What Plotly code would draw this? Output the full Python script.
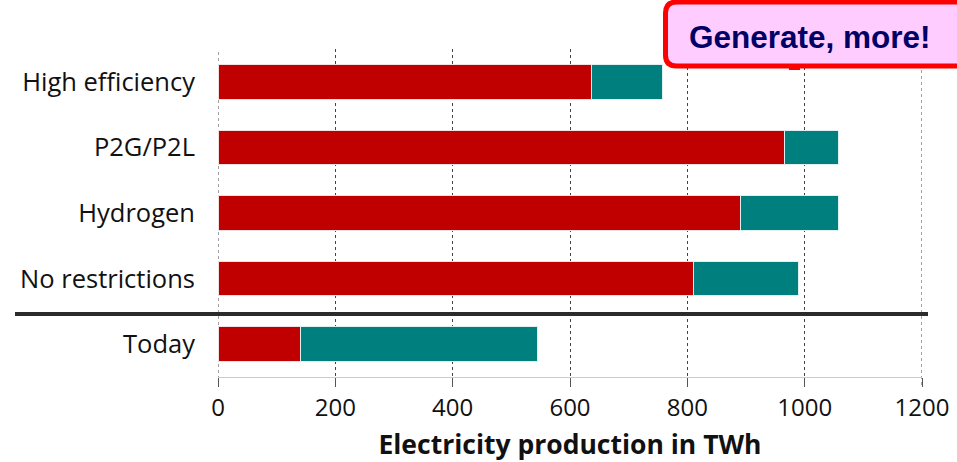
import plotly.graph_objects as go

# Scenario data (TWh)
scenarios = ["High efficiency", "P2G/P2L", "Hydrogen", "No restrictions", "Today"]
red_part = [636, 965, 890, 810, 141]
teal_part = [121, 93, 168, 179, 403]
x_ticks = [0, 200, 400, 600, 800, 1000, 1200]

fig = go.Figure()
fig.add_trace(go.Bar(
    y=scenarios, x=red_part, orientation="h",
    marker=dict(color="#C00000", line=dict(color="#f2e0e0", width=1)),
    width=0.53, hoverinfo="x+y",
))
fig.add_trace(go.Bar(
    y=scenarios, x=teal_part, orientation="h",
    marker=dict(color="#007F7F", line=dict(color="#e0f0f0", width=1)),
    width=0.53, hoverinfo="x+y",
))

W, H = 957, 462
L, R, T, B = 218, 35, 49, 85
pw, ph = W - L - R, H - T - B


def px_x(px):
    return (px - L) / pw


def px_y(py):
    return (H - B - py) / ph


shapes = []
# dashed guides at the range ends (plotly omits edge gridlines)
for xv in (x_ticks[0], x_ticks[-1]):
    shapes.append(dict(type="line", xref="x", yref="paper",
                       x0=xv, x1=xv, y0=px_y(385), y1=1.0,
                       line=dict(color="#444444", width=1, dash="3px,3px"),
                       layer="below"))

# separator between scenarios and today
shapes.append(dict(type="line", xref="paper", yref="paper",
                   x0=px_x(15), x1=px_x(928), y0=px_y(314), y1=px_y(314),
                   line=dict(color="#2b2b2b", width=4), layer="above"))

# rounded callout box
bx0, bx1, by0, by1 = 665.5, 990, 66, 2
rx, ry = 11 / pw, 11 / ph
X0, X1, Y0, Y1 = px_x(bx0), px_x(bx1), px_y(by0), px_y(by1)
path = (f"M {X0+rx},{Y0} L {X1-rx},{Y0} Q {X1},{Y0} {X1},{Y0+ry} "
        f"L {X1},{Y1-ry} Q {X1},{Y1} {X1-rx},{Y1} L {X0+rx},{Y1} "
        f"Q {X0},{Y1} {X0},{Y1-ry} L {X0},{Y0+ry} Q {X0},{Y0} {X0+rx},{Y0} Z")
shapes.append(dict(type="path", xref="paper", yref="paper", path=path,
                   fillcolor="#FFCCFF", line=dict(color="#FF0000", width=5),
                   layer="above"))
shapes.append(dict(type="rect", xref="paper", yref="paper",
                   x0=px_x(789), x1=px_x(800), y0=px_y(70), y1=px_y(66),
                   fillcolor="#FF0000", line=dict(width=0), layer="above"))

fig.update_layout(
    barmode="stack",
    width=W, height=H,
    margin=dict(l=L, r=R, t=T, b=B, autoexpand=False),
    paper_bgcolor="white", plot_bgcolor="white",
    showlegend=False,
    font=dict(family="Open Sans", color="#111111"),
    shapes=shapes,
    annotations=[dict(
        text="<b>Generate, more!</b>", xref="paper", yref="paper",
        x=px_x(810), y=px_y(37), xanchor="center", yanchor="middle",
        showarrow=False,
        font=dict(family="Liberation Sans", size=31.5, color="#000066"),
    )],
    xaxis=dict(
        range=[0, 1200], tickvals=x_ticks, ticktext=[str(v) for v in x_ticks],
        automargin=False,
        showgrid=True, gridcolor="#444444", gridwidth=1, griddash="3px,3px",
        zeroline=False, showline=True, linecolor="#cccccc", linewidth=1,
        ticks="outside", ticklen=9, tickcolor="#555555", tickwidth=1,
        tickfont=dict(size=24, family="Open Sans", color="#111111"),
        title=dict(text="<b>Electricity production in TWh</b>",
                   font=dict(size=26.5, family="Open Sans", color="#111111"),
                   standoff=13),
        fixedrange=True,
    ),
    yaxis=dict(
        autorange="reversed", showgrid=False, zeroline=False, showline=False,
        automargin=False,
        ticks="", ticklabelstandoff=22,
        tickfont=dict(size=25.5, family="Open Sans", color="#111111"),
        fixedrange=True,
    ),
)

fig.write_html("out.html")
